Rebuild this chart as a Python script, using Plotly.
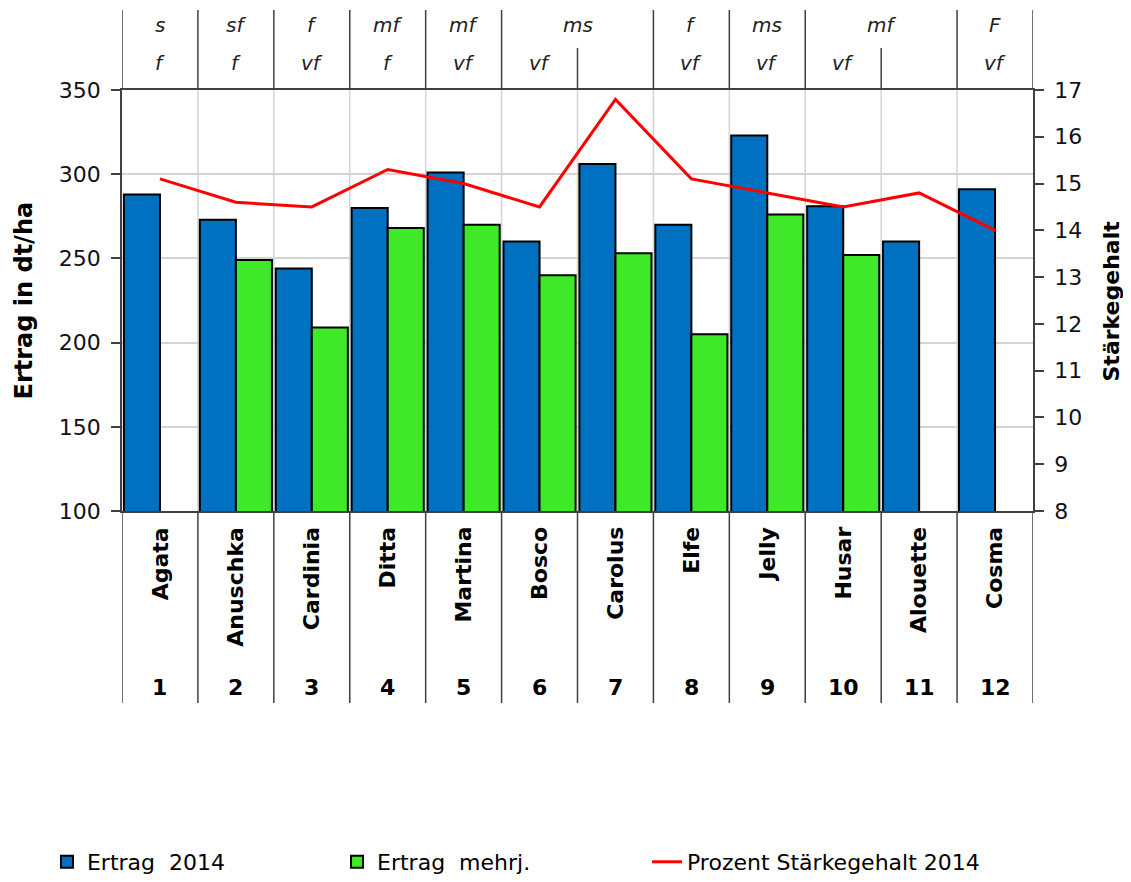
import plotly.graph_objects as go

sorten = ["Agata", "Anuschka", "Cardinia", "Ditta", "Martina", "Bosco",
          "Carolus", "Elfe", "Jelly", "Husar", "Alouette", "Cosma"]
nummern = ["1", "2", "3", "4", "5", "6", "7", "8", "9", "10", "11", "12"]
ertrag_2014 = [288, 273, 244, 280, 301, 260, 306, 270, 323, 281, 260, 291]
ertrag_mehrj = [None, 249, 209, 268, 270, 240, 253, 205, 276, 252, None, None]
staerke_2014 = [15.1, 14.6, 14.5, 15.3, 15.0, 14.5, 16.8, 15.1, 14.8, 14.5, 14.8, 14.0]
# header row 1: (label, first index, last index)
kochtyp = [("s", 0, 0), ("sf", 1, 1), ("f", 2, 2), ("mf", 3, 3), ("mf", 4, 4),
           ("ms", 5, 6), ("f", 7, 7), ("ms", 8, 8), ("mf", 9, 10), ("F", 11, 11)]
# header row 2
reife = ["f", "f", "vf", "f", "vf", "vf", "", "vf", "vf", "vf", "", "vf"]

FONT = "DejaVu Sans"
AXC = "#404040"
GRID = "#D4D4D4"

fig = go.Figure()
fig.add_trace(go.Bar(x=sorten, y=ertrag_2014, name="Ertrag  2014", legend="legend",
                     showlegend=True,
                     marker=dict(color="#0070C0", line=dict(color="black", width=2))))
fig.add_trace(go.Bar(x=sorten, y=ertrag_mehrj, name="Ertrag  mehrj.", legend="legend2",
                     marker=dict(color="#40E82A", line=dict(color="black", width=2))))
fig.add_trace(go.Scatter(x=sorten, y=staerke_2014, name="Prozent Stärkegehalt 2014",
                         legend="legend3", mode="lines",
                         line=dict(color="#FF0000", width=3), yaxis="y2"))

n = len(sorten)
shapes = []
# vertical grid lines inside the plot
for k in range(1, n):
    shapes.append(dict(type="line", xref="x", yref="paper", x0=k - 0.5, x1=k - 0.5,
                       y0=0, y1=1, line=dict(color=GRID, width=1.5), layer="below"))
# lines below the plot (category table)
for k in range(0, n + 1):
    shapes.append(dict(type="line", xref="x", yref="paper", x0=k - 0.5, x1=k - 0.5,
                       y0=-0.456, y1=0, line=dict(color=AXC, width=1.5)))
# header lines
inner = set()
for lab, a, b in kochtyp:
    for k in range(a + 1, b + 1):
        inner.add(k)
for k in range(0, n + 1):
    top = 1.10 if k in inner else 1.19
    shapes.append(dict(type="line", xref="x", yref="paper", x0=k - 0.5, x1=k - 0.5,
                       y0=1, y1=top, line=dict(color=AXC, width=1.5)))

annotations = []
for lab, a, b in kochtyp:
    annotations.append(dict(x=(a + b) / 2, y=1.154, xref="x", yref="paper", text=f"<i>{lab}</i>",
                            xanchor="center", yanchor="middle", showarrow=False,
                            font=dict(family=FONT, size=20, color="#222")))
for i, lab in enumerate(reife):
    if lab:
        annotations.append(dict(x=i, y=1.064, xref="x", yref="paper", text=f"<i>{lab}</i>",
                                xanchor="center", yanchor="middle", showarrow=False,
                                font=dict(family=FONT, size=20, color="#222")))
for i, s in enumerate(sorten):
    annotations.append(dict(x=i, y=-0.033, xref="x", yref="paper", text=f"<b>{s}</b>",
                            textangle=-90, xanchor="center", yanchor="top", showarrow=False,
                            font=dict(family=FONT, size=22, color="black")))
for i, s in enumerate(nummern):
    annotations.append(dict(x=i, y=-0.42, xref="x", yref="paper", text=f"<b>{s}</b>",
                            xanchor="center", yanchor="middle", showarrow=False,
                            font=dict(family=FONT, size=22, color="black")))
annotations.append(dict(x=-0.1076, y=0.5, xref="paper", yref="paper", text="<b>Ertrag in dt/ha</b>",
                        textangle=-90, showarrow=False, xanchor="center", yanchor="middle",
                        font=dict(family=FONT, size=24, color="black")))
annotations.append(dict(x=1.0867, y=0.5, xref="paper", yref="paper", text="<b>Stärkegehalt</b>",
                        textangle=-90, showarrow=False, xanchor="center", yanchor="middle",
                        font=dict(family=FONT, size=22, color="black")))

leg_common = dict(orientation="h", xref="container", yref="container", y=0.0229,
                  xanchor="left", yanchor="middle",
                  font=dict(family=FONT, size=22, color="black"), bgcolor="rgba(0,0,0,0)")

fig.update_layout(
    width=1123, height=874,
    showlegend=True,
    margin=dict(l=114, r=98, t=82, b=371, autoexpand=False),
    paper_bgcolor="white", plot_bgcolor="white",
    barmode="group", bargap=0.05, bargroupgap=0,
    font=dict(family=FONT, size=22, color="black"),
    xaxis=dict(type="category", range=[-0.5, n - 0.5], showticklabels=False,
               showgrid=False, showline=True, linecolor=AXC, linewidth=1.5, mirror=True,
               ticks=""),
    yaxis=dict(range=[100, 350], dtick=50, showgrid=True, gridcolor=GRID, gridwidth=1.5,
               showline=True, linecolor=AXC, linewidth=1.5, ticks="outside", ticklen=9,
               tickcolor=AXC, tickwidth=1.5, ticklabelstandoff=6, zeroline=False,
               tickfont=dict(family=FONT, size=22, color="#111")),
    yaxis2=dict(range=[8, 17], dtick=1, overlaying="y", side="right", showgrid=False,
                showline=True, linecolor=AXC, linewidth=1.5, ticks="outside", ticklen=9,
                tickcolor=AXC, tickwidth=1.5, ticklabelstandoff=6, zeroline=False,
                tickfont=dict(family=FONT, size=22, color="#111")),
    legend=dict(x=0.0347, **leg_common),
    legend2=dict(x=0.2930, **leg_common),
    legend3=dict(x=0.5690, **leg_common),
    shapes=shapes, annotations=annotations,
)
fig.write_html("out.html")
